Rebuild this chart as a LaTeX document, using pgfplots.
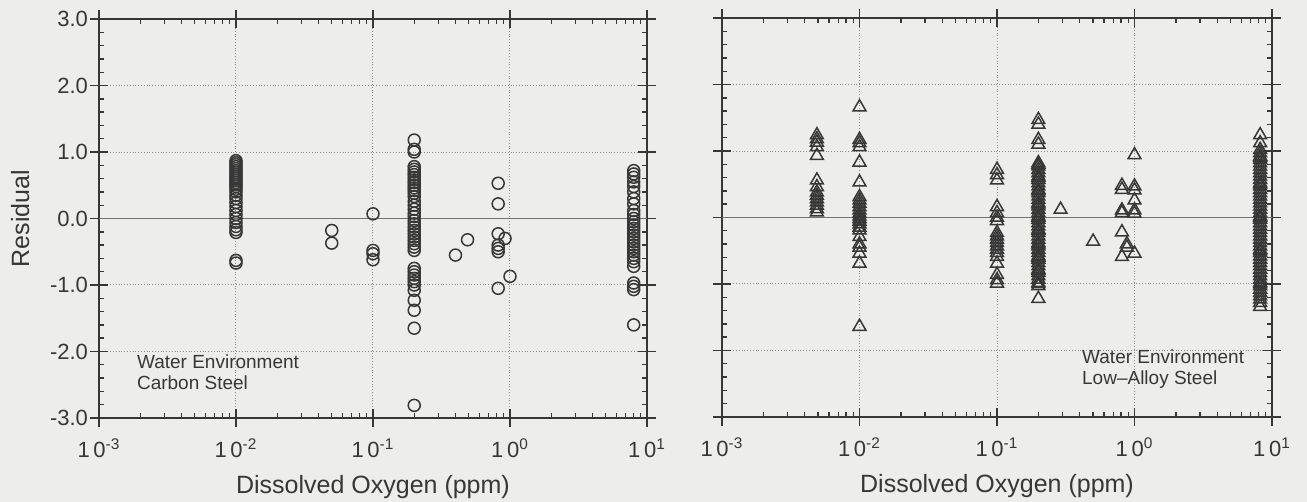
\documentclass[border=0pt]{standalone}
\usepackage{pgfplots}
\pgfplotsset{compat=1.18}
\usepackage{fontspec}
\setmainfont{Liberation Sans}

\definecolor{paper}{RGB}{237,237,235}
\definecolor{ink}{RGB}{55,55,55}
\definecolor{gridc}{RGB}{140,140,140}
\definecolor{zeroline}{RGB}{115,115,115}

\begin{document}
\begin{tikzpicture}
\path[use as bounding box, fill=paper] (0,0) rectangle (653.5pt,251pt);

% Carbon steel
\begin{axis}[
    at={(49.5pt,42pt)}, anchor=south west,
    xmode=log, xmin=0.001, xmax=10, ymin=-3, ymax=3,
    scale only axis, width=274pt, height=199.5pt,
    xtick={0.001,0.01,0.1,1,10},
    xticklabels={1\,0\textsuperscript{-3},1\,0\textsuperscript{-2},1\,0\textsuperscript{-1},1\,0\textsuperscript{0},1\,0\textsuperscript{1}},
    ytick={-3,-2,-1,0,1,2,3},
    yticklabels={-3.0,-2.0,-1.0,0.0,1.0,2.0,3.0},
    minor y tick num=4,
    grid=major,
    major grid style={densely dotted, gridc, line width=0.5pt},
    axis line style={ink, line width=0.8pt},
    tick style={ink, line width=0.7pt},
    tick align=inside, major tick length=4.5pt, minor tick length=2.5pt,
    extra x ticks={0.001,0.01,0.1,1,10}, extra x tick labels={},
    extra x tick style={tick align=outside, grid=none},
    extra y ticks={-3,-2,-1,0,1,2,3}, extra y tick labels={},
    extra y tick style={tick align=outside, grid=none},
    ticklabel style={font=\fontsize{11}{13}\selectfont, text=ink},
    xticklabel style={yshift=-7pt},
    yticklabel style={xshift=-2pt},
    label style={font=\fontsize{12.5}{15}\selectfont, text=ink},
    xlabel={Dissolved Oxygen (ppm)},
    xlabel style={at={(axis description cs:0.5,-0.172)}, anchor=center},
    ylabel={Residual},
    ylabel style={at={(axis description cs:-0.144,0.5)}, anchor=center},
    clip=false]
\addplot[no marks, zeroline, line width=0.7pt] coordinates {(0.001,0) (10,0)};
\addplot[only marks, mark=o, mark size=3pt, mark options={ink, line width=0.75pt}] coordinates {
 (0.01,0.87) (0.01,0.84) (0.01,0.81) (0.01,0.78) (0.01,0.75) (0.01,0.72)
 (0.01,0.69) (0.01,0.66) (0.01,0.63) (0.01,0.60) (0.01,0.57) (0.01,0.54)
 (0.01,0.51) (0.01,0.48) (0.01,0.44) (0.01,0.40) (0.01,0.35) (0.01,0.30)
 (0.01,0.24) (0.01,0.18) (0.01,0.12) (0.01,0.06) (0.01,0.00) (0.01,-0.06)
 (0.01,-0.12) (0.01,-0.17) (0.01,-0.21) (0.01,-0.63) (0.01,-0.67)
 (0.05,-0.18) (0.05,-0.37)
 (0.1,0.07) (0.1,-0.48) (0.1,-0.53) (0.1,-0.62)
 (0.2,1.18) (0.2,1.04) (0.2,1.00) (0.2,0.78) (0.2,0.74) (0.2,0.70)
 (0.2,0.66) (0.2,0.62) (0.2,0.58) (0.2,0.54) (0.2,0.50) (0.2,0.46)
 (0.2,0.42) (0.2,0.38) (0.2,0.33) (0.2,0.26) (0.2,0.20) (0.2,0.14)
 (0.2,0.08) (0.2,0.03) (0.2,-0.03) (0.2,-0.08) (0.2,-0.13) (0.2,-0.18)
 (0.2,-0.23) (0.2,-0.28) (0.2,-0.33) (0.2,-0.38) (0.2,-0.43) (0.2,-0.48)
 (0.2,-0.75) (0.2,-0.80) (0.2,-0.85) (0.2,-0.90) (0.2,-0.95) (0.2,-1.00)
 (0.2,-1.08) (0.2,-1.23) (0.2,-1.38) (0.2,-1.65) (0.2,-2.81)
 (0.4,-0.55) (0.49,-0.32)
 (0.82,0.53) (0.82,0.22) (0.82,-0.23) (0.82,-0.40) (0.82,-0.45) (0.82,-0.50) (0.82,-1.05)
 (0.92,-0.30) (1.0,-0.87)
 (8,0.72) (8,0.67) (8,0.62) (8,0.55) (8,0.48) (8,0.40) (8,0.30) (8,0.22)
 (8,0.12) (8,0.06) (8,0.00) (8,-0.05) (8,-0.10) (8,-0.15) (8,-0.20) (8,-0.25)
 (8,-0.30) (8,-0.35) (8,-0.40) (8,-0.45) (8,-0.50) (8,-0.55) (8,-0.60)
 (8,-0.65) (8,-0.72) (8,-0.97) (8,-1.02) (8,-1.07) (8,-1.60)
};
\node[anchor=west, font=\fontsize{9.5}{11}\selectfont, text=ink] at (rel axis cs:0.0566,0.140) {Water Environment};
\node[anchor=west, font=\fontsize{9.5}{11}\selectfont, text=ink] at (rel axis cs:0.0566,0.088) {Carbon Steel};
\end{axis}

% Low-alloy steel
\begin{axis}[
    at={(361pt,42.5pt)}, anchor=south west,
    xmode=log, xmin=0.001, xmax=10, ymin=-3, ymax=3,
    scale only axis, width=275pt, height=199.5pt,
    xtick={0.001,0.01,0.1,1,10},
    xticklabels={1\,0\textsuperscript{-3},1\,0\textsuperscript{-2},1\,0\textsuperscript{-1},1\,0\textsuperscript{0},1\,0\textsuperscript{1}},
    ytick={-3,-2,-1,0,1,2,3},
    yticklabels={},
    minor y tick num=4,
    grid=major,
    major grid style={densely dotted, gridc, line width=0.5pt},
    axis line style={ink, line width=0.8pt},
    tick style={ink, line width=0.7pt},
    tick align=inside, major tick length=4.5pt, minor tick length=2.5pt,
    extra x ticks={0.001,0.01,0.1,1,10}, extra x tick labels={},
    extra x tick style={tick align=outside, grid=none},
    extra y ticks={-3,-2,-1,0,1,2,3}, extra y tick labels={},
    extra y tick style={tick align=outside, grid=none},
    ticklabel style={font=\fontsize{11}{13}\selectfont, text=ink},
    xticklabel style={yshift=-7pt},
    label style={font=\fontsize{12.5}{15}\selectfont, text=ink},
    xlabel={Dissolved Oxygen (ppm)},
    xlabel style={at={(axis description cs:0.5,-0.172)}, anchor=center},
    clip=false]
\addplot[no marks, zeroline, line width=0.7pt] coordinates {(0.001,0) (10,0)};
\addplot[only marks, mark=triangle, mark size=3.7pt, mark options={ink, line width=0.75pt}] coordinates {
 (0.0049,1.24) (0.0049,1.18) (0.0049,1.13) (0.0049,1.06) (0.0049,0.93)
 (0.0049,0.56) (0.0049,0.46) (0.0049,0.38) (0.0049,0.33) (0.0049,0.28)
 (0.0049,0.23) (0.0049,0.18) (0.0049,0.13) (0.0049,0.08)
 (0.01,1.66) (0.01,1.17) (0.01,1.12) (0.01,1.06) (0.01,0.83) (0.01,0.53)
 (0.01,0.31) (0.01,0.26) (0.01,0.21) (0.01,0.16) (0.01,0.11) (0.01,0.06)
 (0.01,0.02) (0.01,-0.02) (0.01,-0.06) (0.01,-0.10) (0.01,-0.15) (0.01,-0.19)
 (0.01,-0.29) (0.01,-0.40) (0.01,-0.45) (0.01,-0.54) (0.01,-0.69) (0.01,-1.64)
 (0.1,0.72) (0.1,0.64) (0.1,0.56) (0.1,0.16) (0.1,0.07) (0.1,0.00) (0.1,-0.05)
 (0.1,-0.23) (0.1,-0.28) (0.1,-0.33) (0.1,-0.38) (0.1,-0.43) (0.1,-0.48)
 (0.1,-0.53) (0.1,-0.59) (0.1,-0.69) (0.1,-0.86) (0.1,-0.94) (0.1,-0.99)
 (0.2,1.47) (0.2,1.40) (0.2,1.17) (0.2,1.10)
 (0.2,0.82) (0.2,0.80) (0.2,0.77) (0.2,0.72) (0.2,0.67) (0.2,0.62) (0.2,0.60)
 (0.2,0.57) (0.2,0.52) (0.2,0.47) (0.2,0.42) (0.2,0.40) (0.2,0.37) (0.2,0.32)
 (0.2,0.27) (0.2,0.22) (0.2,0.20) (0.2,0.17) (0.2,0.12) (0.2,0.07) (0.2,0.02)
 (0.2,0.00) (0.2,-0.03) (0.2,-0.08) (0.2,-0.13) (0.2,-0.18) (0.2,-0.20)
 (0.2,-0.23) (0.2,-0.28) (0.2,-0.33) (0.2,-0.38) (0.2,-0.40) (0.2,-0.43)
 (0.2,-0.48) (0.2,-0.53) (0.2,-0.58) (0.2,-0.60) (0.2,-0.63) (0.2,-0.68)
 (0.2,-0.73) (0.2,-0.78) (0.2,-0.80) (0.2,-0.83) (0.2,-0.88) (0.2,-0.93)
 (0.2,-0.98) (0.2,-1.00) (0.2,-1.03) (0.2,-1.22)
 (0.29,0.12) (0.5,-0.36)
 (0.81,0.48) (0.81,0.42) (0.81,0.11) (0.81,0.07) (0.81,-0.22) (0.81,-0.59)
 (0.88,-0.40) (0.88,-0.45)
 (1.0,0.94) (1.0,0.47) (1.0,0.41) (1.0,0.26) (1.0,0.11) (1.0,0.06) (1.0,-0.54)
 (8.2,1.24) (8.2,1.12) (8.2,1.02) (8.2,0.97) (8.2,0.92) (8.2,0.90) (8.2,0.87)
 (8.2,0.82) (8.2,0.77) (8.2,0.72) (8.2,0.67) (8.2,0.62) (8.2,0.57) (8.2,0.52)
 (8.2,0.50) (8.2,0.47) (8.2,0.42) (8.2,0.37) (8.2,0.32) (8.2,0.27) (8.2,0.22)
 (8.2,0.17) (8.2,0.12) (8.2,0.07) (8.2,0.02) (8.2,0.00) (8.2,-0.03) (8.2,-0.08)
 (8.2,-0.13) (8.2,-0.18) (8.2,-0.23) (8.2,-0.28) (8.2,-0.33) (8.2,-0.38)
 (8.2,-0.43) (8.2,-0.48) (8.2,-0.50) (8.2,-0.53) (8.2,-0.58) (8.2,-0.63)
 (8.2,-0.68) (8.2,-0.73) (8.2,-0.78) (8.2,-0.83) (8.2,-0.88) (8.2,-0.93)
 (8.2,-0.98) (8.2,-1.00) (8.2,-1.03) (8.2,-1.08) (8.2,-1.13) (8.2,-1.18)
 (8.2,-1.23) (8.2,-1.28) (8.2,-1.34)
};
\node[anchor=west, font=\fontsize{9.5}{11}\selectfont, text=ink] at (rel axis cs:0.642,0.150) {Water Environment};
\node[anchor=west, font=\fontsize{9.5}{11}\selectfont, text=ink] at (rel axis cs:0.642,0.093) {Low--Alloy Steel};
\end{axis}
\end{tikzpicture}
\end{document}
